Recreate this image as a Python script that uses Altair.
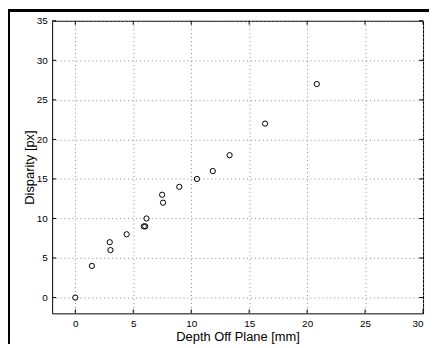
import altair as alt
import pandas as pd

# data
depth = [0.0, 1.43, 2.97, 3.03, 4.43, 5.91, 6.03, 6.14, 7.49, 7.57, 8.97, 10.49, 11.86, 13.31, 16.37, 20.83]
disparity = [0, 4, 7, 6, 8, 9, 9, 10, 13, 12, 14, 15, 16, 18, 22, 27]
x_ticks = [0, 5, 10, 15, 20, 25, 30]
y_ticks = [0, 5, 10, 15, 20, 25, 30, 35]

W, H = 374, 295
PL, PT, PR, PB = 44.5, 11.5, 6, 30.5

df = pd.DataFrame({"depth": depth, "disparity": disparity})
xt = pd.DataFrame({"depth": x_ticks})
yt = pd.DataFrame({"disparity": y_ticks})

xs = alt.Scale(domain=[-2, 30], nice=False, zero=False)
ys = alt.Scale(domain=[-2, 35], nice=False, zero=False)

x_axis = alt.Axis(values=x_ticks, title="Depth Off Plane [mm]",
                  titleBaseline="alphabetic", titleY=27.2)
y_axis = alt.Axis(values=y_ticks, title="Disparity [px]",
                  titleBaseline="alphabetic", titleX=-19.2, titleY=H / 2,
                  titleAngle=270, titleAlign="center")

X = alt.X("depth:Q", scale=xs, axis=x_axis)
Y = alt.Y("disparity:Q", scale=ys, axis=y_axis)

points = alt.Chart(df).mark_point(
    shape="circle", filled=False, color="black", size=28, strokeWidth=1, opacity=1
).encode(x=X, y=Y)

tick_len = 4
xb = alt.Chart(xt).mark_rule(color="black").encode(
    x=X, y=alt.value(H), y2=alt.value(H - tick_len))
xtp = alt.Chart(xt).mark_rule(color="black").encode(
    x=X, y=alt.value(0), y2=alt.value(tick_len))
yl = alt.Chart(yt).mark_rule(color="black").encode(
    y=Y, x=alt.value(0), x2=alt.value(tick_len))
yr = alt.Chart(yt).mark_rule(color="black").encode(
    y=Y, x=alt.value(W), x2=alt.value(W - tick_len))

top_border = alt.Chart(xt).mark_rule(color="black", strokeWidth=3).encode(
    x=alt.value(-PL), x2=alt.value(W + PR), y=alt.value(-PT + 1))
left_border = alt.Chart(xt).mark_rule(color="black", strokeWidth=3).encode(
    x=alt.value(-PL), y=alt.value(-PT), y2=alt.value(H + PB))

chart = alt.layer(points, xb, xtp, yl, yr, top_border, left_border).properties(
    width=W, height=H,
    padding={"left": PL, "top": PT, "right": PR, "bottom": PB},
    autosize=alt.AutoSizeParams(type="none"),
    background="white",
).configure_view(
    stroke="black", strokeWidth=1
).configure_axis(
    labelFont="Liberation Sans", labelFontSize=10, labelColor="black",
    titleFont="Liberation Sans", titleFontSize=13, titleFontWeight="normal", titleColor="black",
    grid=True, gridColor="#8c8c8c", gridDash=[1, 3], gridOpacity=1, gridWidth=1,
    ticks=False, domain=False, labelPadding=5,
)

chart.save("out.html", embed_options={"renderer": "svg", "actions": False})
